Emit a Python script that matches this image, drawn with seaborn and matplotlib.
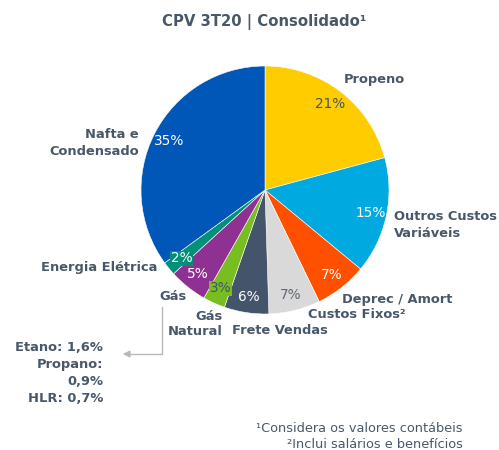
import matplotlib
matplotlib.use("Agg")
import matplotlib.pyplot as plt
import seaborn as sns

# data (clockwise from 12 o'clock)
categories = ["Propeno", "Outros Custos Variáveis", "Deprec / Amort", "Custos Fixos²",
              "Frete Vendas", "Gás Natural", "Gás", "Energia Elétrica", "Nafta e Condensado"]
shares = [20.8, 15.2, 6.8, 6.7, 5.8, 2.9, 5.0, 1.8, 35.0]
slice_colors = ["#FFCC00", "#00A9E0", "#FF5000", "#D9D9D9", "#44546A",
                "#78BE20", "#8E3192", "#00907A", "#0057B8"]
pct_colors = ["#44546A", "white", "white", "#5F6B78", "white",
              "#44546A", "white", "white", "white"]
gas_breakdown = ["Etano: 1,6%", "Propano:", "0,9%", "HLR: 0,7%"]
footnotes = ["¹Considera os valores contábeis", "²Inclui salários e benefícios"]

# layout (pixel positions of the category labels, alignment, line spacing)
label_text = ["Propeno", "Outros Custos\nVariáveis", "Deprec / Amort", "Custos Fixos²",
              "Frete Vendas", "Gás\nNatural", "Gás", "Energia Elétrica", "Nafta e\nCondensado"]
label_pos = [(344, 80, "left", 1.0), (394, 225, "left", 1.4), (342, 300, "left", 1.0),
             (308, 315, "left", 1.0), (232, 330, "left", 1.0), (223, 324, "right", 1.2),
             (173, 296, "center", 1.0), (157, 268, "right", 1.0), (139, 143, "right", 1.35)]

sns.set_theme(style="white")
plt.rcParams["font.family"] = ["DejaVu Sans"]
text_col = "#485868"

W, H = 499, 450
fig = plt.figure(figsize=(W / 100, H / 100), dpi=100)
cx, cy, r = 265, 190, 124
ax = fig.add_axes([(cx - r) / W, (H - cy - r) / H, 2 * r / W, 2 * r / H])
wedges, _, autotexts = ax.pie(shares, colors=slice_colors, startangle=90, counterclock=False,
                              autopct=lambda p: f"{p:.0f}%", pctdistance=0.87,
                              wedgeprops=dict(edgecolor="white", linewidth=0.4),
                              textprops=dict(fontsize=9.8))
for t, c in zip(autotexts, pct_colors):
    t.set_color(c)
for i in (5, 7):
    autotexts[i].set_bbox(dict(facecolor=slice_colors[i], edgecolor="none", pad=0.5))
ax.set_xlim(-1, 1)
ax.set_ylim(-1, 1)
ax.set_aspect("equal")
ax.axis("off")

# overlay in pixel coordinates
ov = fig.add_axes([0, 0, 1, 1])
ov.set_xlim(0, W)
ov.set_ylim(H, 0)
ov.axis("off")
ov.patch.set_alpha(0)

ov.text(264, 22, "CPV 3T20 | Consolidado¹", ha="center", va="center",
        fontsize=10.7, fontweight="bold", color=text_col)

for txt, (x, y, ha, ls) in zip(label_text, label_pos):
    ov.text(x, y, txt, ha=ha, va="center", fontsize=9.4, fontweight="bold",
            color=text_col, linespacing=ls, multialignment=ha)

ov.text(103, 373, "\n".join(gas_breakdown), ha="right", va="center", fontsize=9.4,
        fontweight="bold", color=text_col, linespacing=1.38)

ov.plot([162, 162, 128], [307, 354, 354], color="#B8B8B8", lw=1)
ov.annotate("", xy=(120, 354), xytext=(130, 354),
            arrowprops=dict(arrowstyle="-|>", color="#B8B8B8", lw=1, mutation_scale=10))

ov.text(463, 429, footnotes[0], ha="right", va="center", fontsize=9.3, color=text_col)
ov.text(463, 445, footnotes[1], ha="right", va="center", fontsize=9.3, color=text_col)

fig.savefig("out.png", dpi=100)
